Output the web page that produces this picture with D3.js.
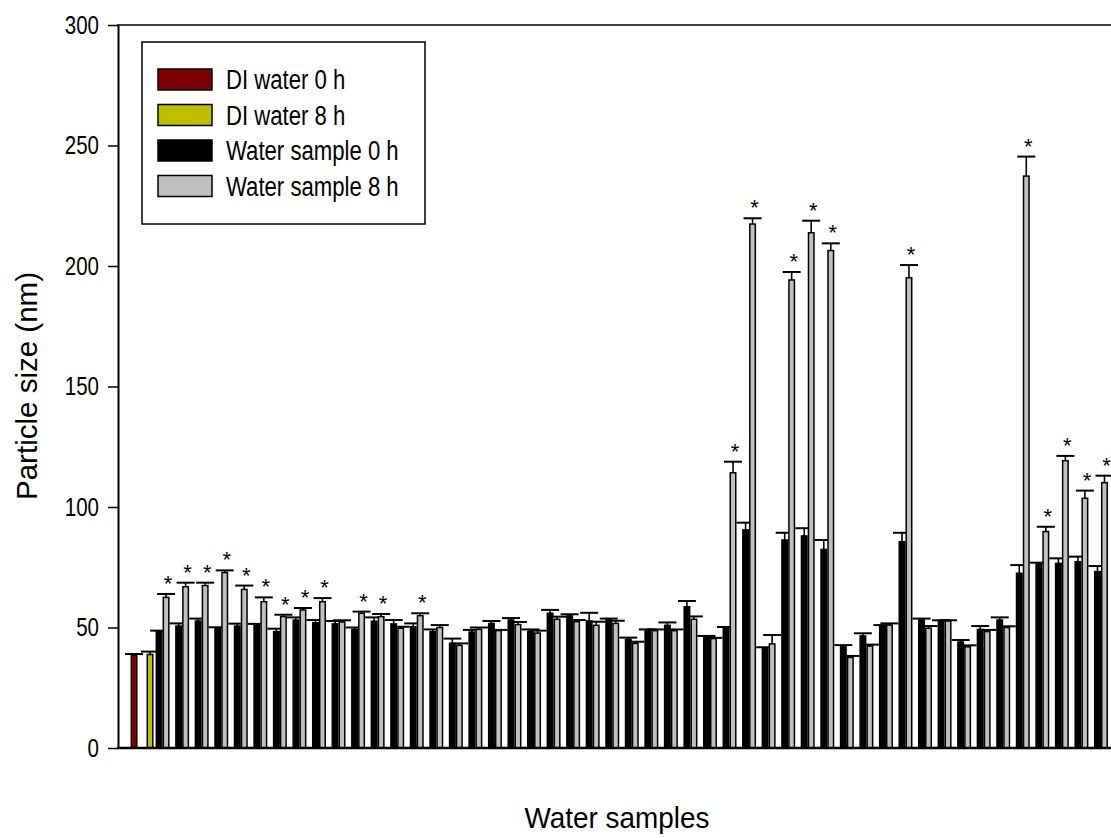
<!DOCTYPE html>
<html>
<head>
<meta charset="utf-8">
<title>Particle size</title>
<script src="https://cdn.jsdelivr.net/npm/d3@7"></script>
<style>
  body { margin: 0; background: #fff; }
  text { font-family: "Liberation Sans", Arial, sans-serif; fill: #000; }
</style>
</head>
<body>
<script>
// data
var seriesNames = ["DI water 0 h", "DI water 8 h", "Water sample 0 h", "Water sample 8 h"];
var seriesColors = ["#7f0000", "#bfbf00", "#000000", "#c0c0c0"];

var diValues = [38.5, 38.8];
var diErrors = [0.5, 1.2];

var sampleNames = d3.range(1, 50).map(function(i){ return "S" + i; });

var sample0h = [48.3, 50.6, 52.7, 49.7, 50.6, 50.9, 48.3, 53.1, 52.0, 51.5,
                49.2, 52.6, 51.5, 50.3, 48.3, 43.4, 48.1, 51.7, 53.1, 48.3,
                55.9, 54.8, 52.7, 53.1, 45.1, 48.7, 50.9, 58.6, 46.2, 49.7,
                90.5, 41.4, 86.3, 88.0, 82.4, 42.3, 46.5, 50.6, 85.6, 53.1,
                52.7, 44.0, 49.2, 53.1, 72.5, 76.3, 76.6, 77.3, 73.2];
var sample0hErr = [0.4, 1.1, 1.0, 0.4, 1.0, 0.6, 1.2, 1.1, 1.1, 1.2,
                   0.8, 1.6, 1.6, 1.4, 0.9, 2.0, 0.9, 1.0, 0.8, 0.9,
                   1.4, 0.7, 3.4, 0.6, 0.7, 0.5, 1.2, 2.4, 0.3, 0.5,
                   3.0, 0.4, 3.0, 3.2, 3.9, 0.4, 1.1, 0.4, 3.7, 0.6,
                   0.3, 0.8, 1.4, 1.1, 3.4, 0.6, 2.1, 2.1, 2.3];

var sample8h = [62.5, 66.9, 67.4, 72.8, 65.8, 60.7, 54.5, 57.3, 60.7, 52.3,
                55.9, 54.5, 49.7, 54.9, 50.0, 42.6, 49.2, 48.7, 51.2, 47.7,
                53.4, 52.4, 50.9, 51.7, 43.4, 48.7, 48.7, 53.4, 45.4, 114.2,
                217.4, 43.2, 194.2, 213.8, 206.4, 37.6, 42.3, 51.0, 195.1, 49.7,
                52.7, 42.0, 48.3, 50.0, 237.3, 89.8, 119.2, 103.6, 110.1];
var sample8hErr = [1.4, 1.7, 1.2, 0.9, 1.6, 1.8, 0.8, 0.8, 1.5, 0.7,
                   0.7, 1.1, 0.6, 1.0, 1.0, 0.8, 0.8, 0.3, 1.1, 1.0,
                   1.1, 0.7, 1.5, 1.1, 0.7, 0.5, 0.5, 1.2, 0.3, 4.6,
                   2.4, 3.7, 3.3, 5.0, 3.0, 0.6, 0.6, 0.7, 5.3, 0.9,
                   0.3, 0.6, 0.7, 0.5, 8.1, 2.0, 2.0, 3.2, 2.9];

// samples whose 8 h value is marked with *
var starred = ["S1", "S2", "S3", "S4", "S5", "S6", "S7", "S8", "S9", "S11", "S12", "S14",
               "S30", "S31", "S33", "S34", "S35", "S39", "S45", "S46", "S47", "S48", "S49"];

var yTicks = [0, 50, 100, 150, 200, 250, 300];

var svgWidth = 1111, svgHeight = 838;
var svg = d3.select("body").append("svg")
  .attr("width", svgWidth)
  .attr("height", svgHeight);

// squeeze text horizontally (the original uses a narrow sans)
function narrow(sel, k){
  sel.each(function(){
    var w = this.getComputedTextLength();
    d3.select(this).attr("textLength", w * k).attr("lengthAdjust", "spacingAndGlyphs");
  });
}

var categories = ["DI"].concat(sampleNames);

var x = d3.scalePoint().domain(categories).range([118, 1126]).padding(1.28);
var y = d3.scaleLinear().domain([0, 300]).range([748, 25]);

var barW = 5.5;

// build a flat list of bars
var bars = [];
diValues.forEach(function(v, i){
  bars.push({cx: x("DI") + (i === 0 ? -9 : 7), value: v, err: diErrors[i], color: seriesColors[i], star: false});
});
sampleNames.forEach(function(s, i){
  bars.push({cx: x(s) - 3.5, value: sample0h[i], err: sample0hErr[i], color: seriesColors[2], star: false});
  bars.push({cx: x(s) + 3.5, value: sample8h[i], err: sample8hErr[i], color: seriesColors[3], star: starred.indexOf(s) >= 0});
});

var g = svg.append("g");

// error bars (upper only)
g.selectAll(".err-v").data(bars).enter().append("line")
  .attr("x1", function(d){ return d.cx; })
  .attr("x2", function(d){ return d.cx; })
  .attr("y1", function(d){ return y(d.value); })
  .attr("y2", function(d){ return y(d.value + d.err); })
  .attr("stroke", "#000").attr("stroke-width", 1.6);

g.selectAll(".err-cap").data(bars).enter().append("line")
  .attr("x1", function(d){ return d.cx - 9; })
  .attr("x2", function(d){ return d.cx + 9; })
  .attr("y1", function(d){ return y(d.value + d.err); })
  .attr("y2", function(d){ return y(d.value + d.err); })
  .attr("stroke", "#000").attr("stroke-width", 2);

g.selectAll("rect.bar").data(bars).enter().append("rect")
  .attr("class", "bar")
  .attr("x", function(d){ return d.cx - barW / 2; })
  .attr("y", function(d){ return y(d.value); })
  .attr("width", barW)
  .attr("height", function(d){ return y(0) - y(d.value); })
  .attr("fill", function(d){ return d.color; })
  .attr("stroke", "#000")
  .attr("stroke-width", 1.5);

// significance stars
g.selectAll("text.star").data(bars.filter(function(d){ return d.star; })).enter().append("text")
  .attr("class", "star")
  .attr("x", function(d){ return d.cx + 2; })
  .attr("y", function(d){ return y(d.value + d.err) - 3; })
  .attr("text-anchor", "middle")
  .style("font-size", "22px")
  .text("*");

// axes
var yAxis = d3.axisLeft(y).tickValues(yTicks).tickSize(10).tickSizeOuter(0).tickPadding(9);
var ya = svg.append("g")
  .attr("transform", "translate(118,0)")
  .call(yAxis);
ya.select(".domain").attr("stroke-width", 2);
ya.selectAll(".tick line").attr("stroke-width", 1.5);
ya.selectAll(".tick text").style("font-size", "25px").style("font-family", "'Liberation Sans', Arial, sans-serif").call(narrow, 0.82);

svg.append("line")
  .attr("x1", 117).attr("x2", svgWidth)
  .attr("y1", y(300)).attr("y2", y(300))
  .attr("stroke", "#000").attr("stroke-width", 1.5);

svg.append("line")
  .attr("x1", 117).attr("x2", svgWidth)
  .attr("y1", y(0)).attr("y2", y(0))
  .attr("stroke", "#000").attr("stroke-width", 2.5);

// axis titles
svg.append("text")
  .attr("transform", "translate(37,386) rotate(-90)")
  .attr("text-anchor", "middle")
  .style("font-size", "30px")
  .attr("textLength", 228).attr("lengthAdjust", "spacingAndGlyphs")
  .text("Particle size (nm)");

svg.append("text")
  .attr("x", 617).attr("y", 828)
  .attr("text-anchor", "middle")
  .style("font-size", "30px")
  .call(function(s){ s.text("Water samples"); })
  .call(narrow, 0.93);

// legend
var legend = svg.append("g");
legend.append("rect")
  .attr("x", 142).attr("y", 42).attr("width", 283).attr("height", 182)
  .attr("fill", "#fff").attr("stroke", "#000").attr("stroke-width", 1.5);

var items = legend.selectAll(".item").data(seriesNames).enter().append("g")
  .attr("transform", function(d, i){ return "translate(158," + (69 + i * 35.5) + ")"; });
items.append("rect")
  .attr("width", 54).attr("height", 21)
  .attr("fill", function(d, i){ return seriesColors[i]; })
  .attr("stroke", "#000").attr("stroke-width", 1.5);
items.append("text")
  .attr("x", 68).attr("y", 20)
  .style("font-size", "27px")
  .text(function(d){ return d; })
  .call(narrow, 0.82);
</script>
</body>
</html>
